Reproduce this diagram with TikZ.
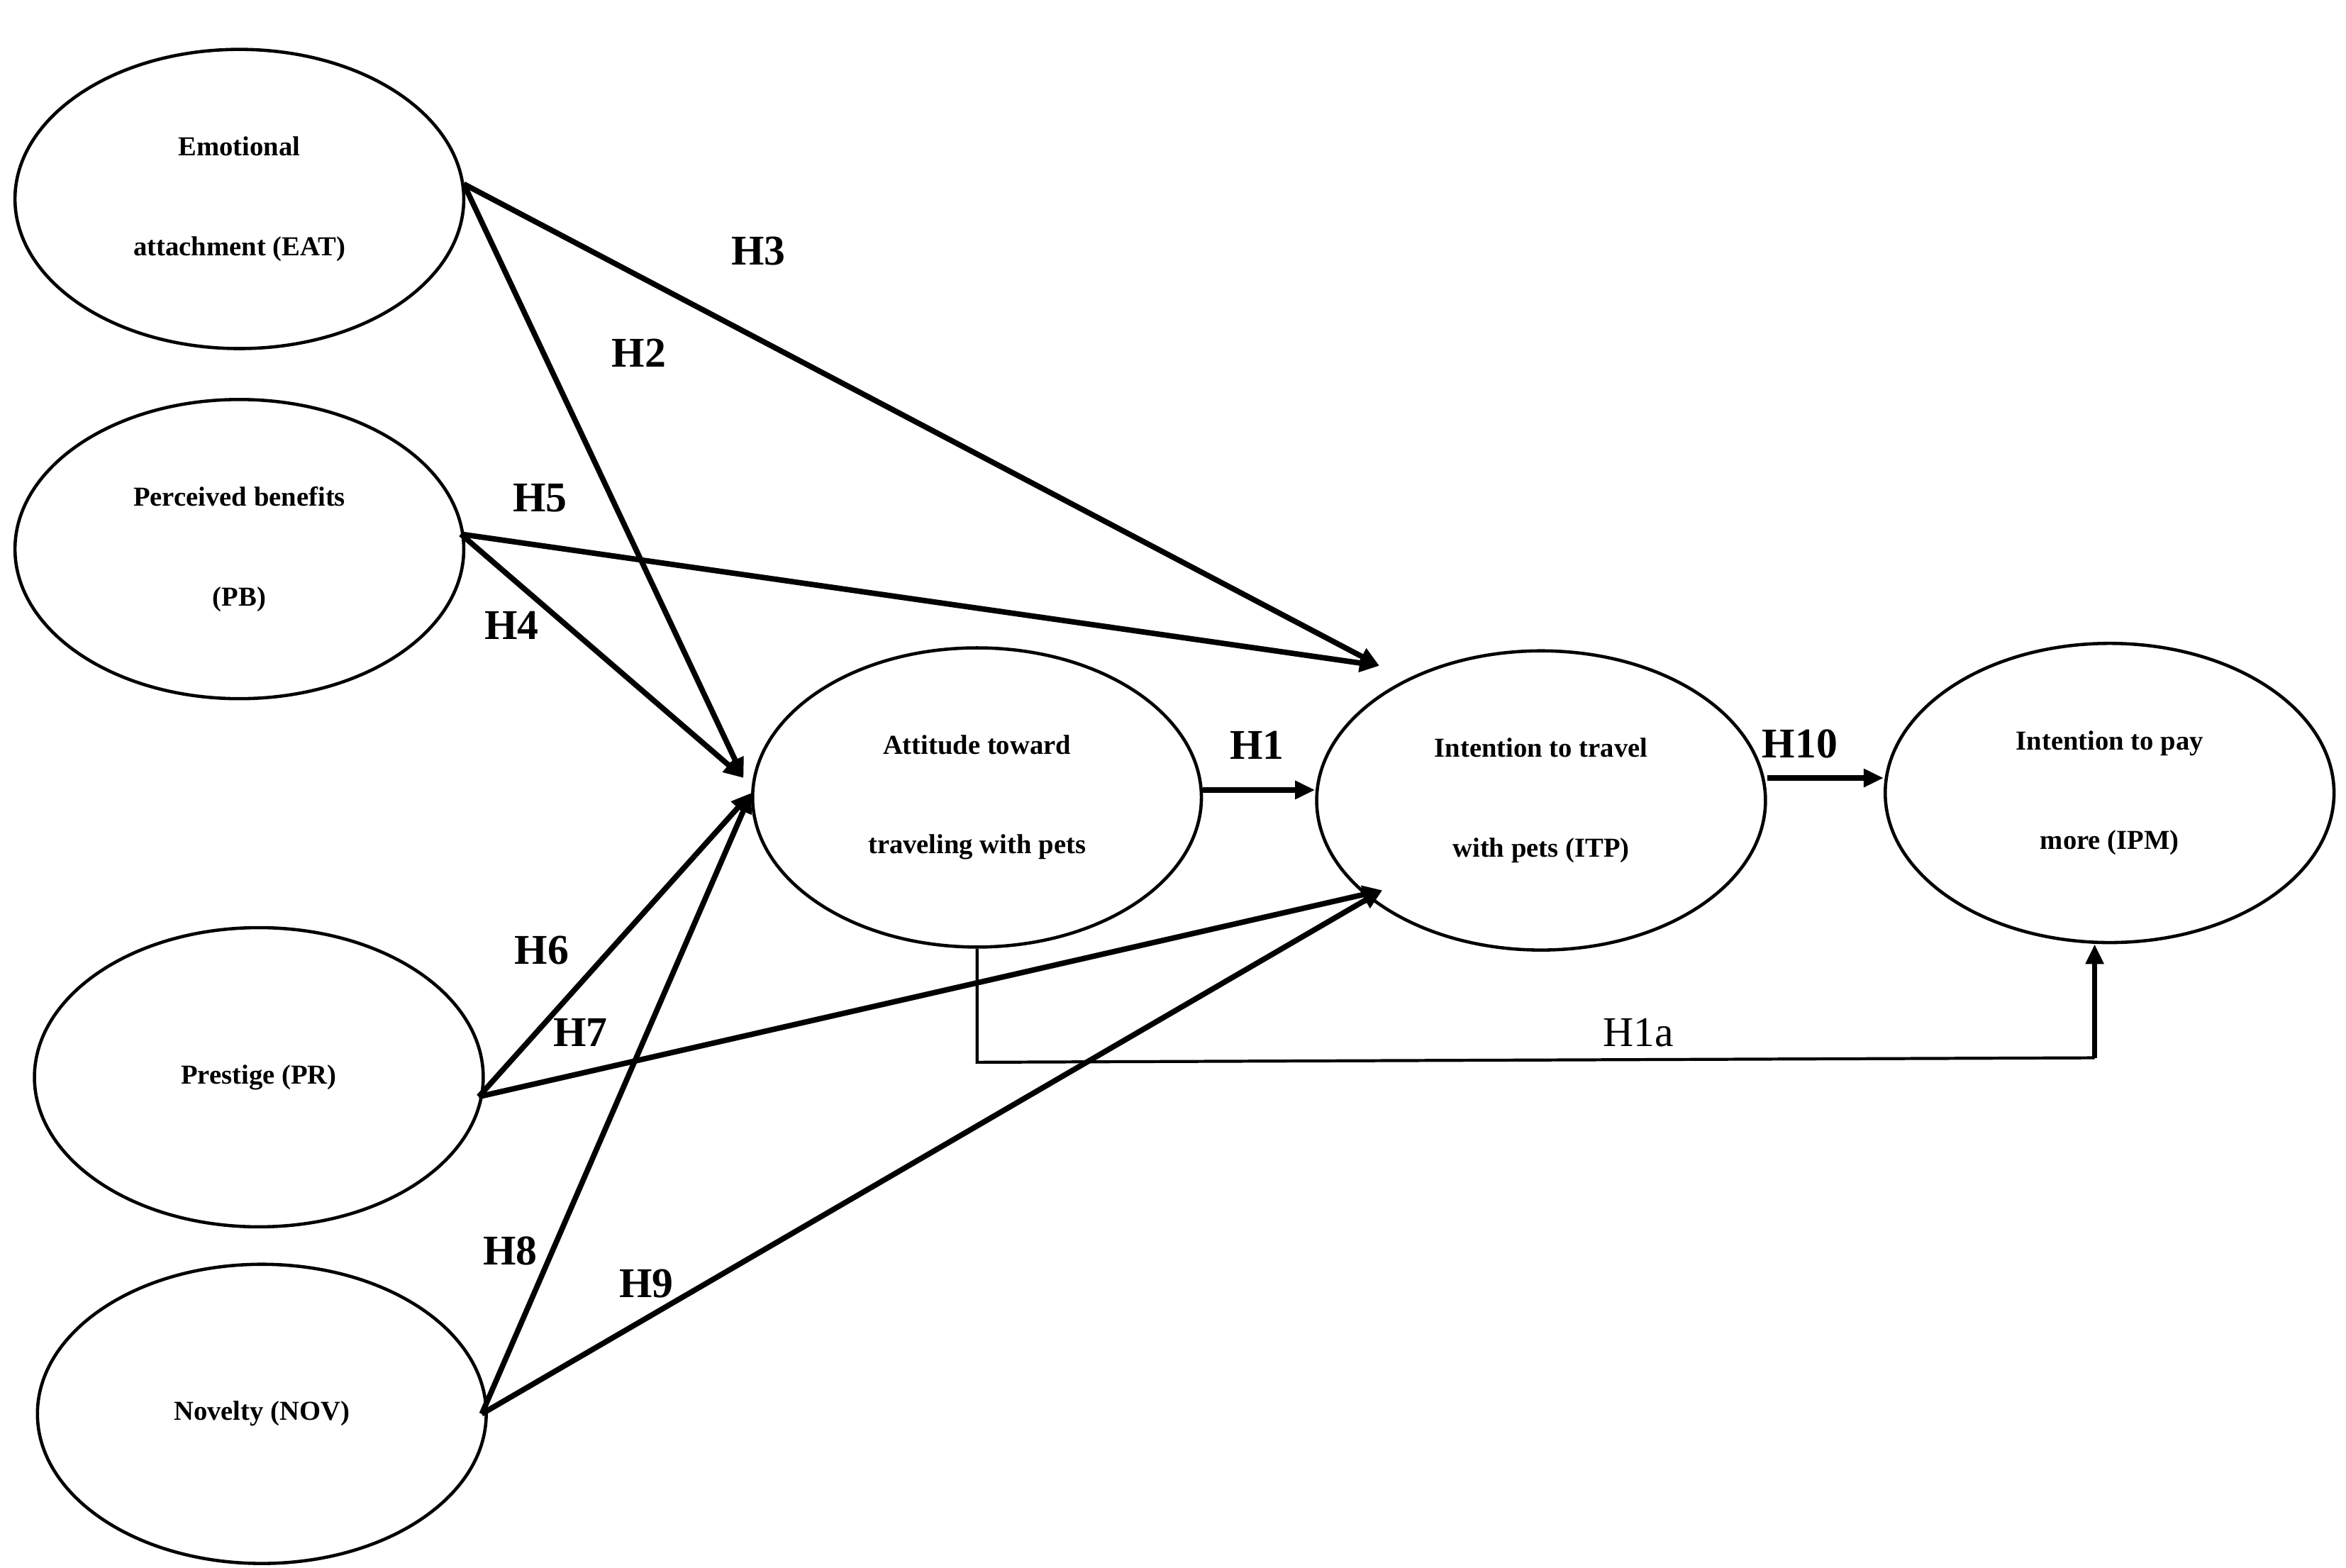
\documentclass[tikz,border=0pt]{standalone}
\usepackage{fontspec}
\setmainfont{Liberation Serif}
\usetikzlibrary{shapes.geometric,arrows.meta}
\tikzset{
  construct/.style={ellipse, draw, line width=1.3pt, minimum width=6.33cm, minimum height=4.22cm,
    align=center, font=\bfseries\fontsize{11}{40}\selectfont},
  path/.style={-{Triangle[length=8pt,width=7pt]}, line width=2.2pt},
  hyp/.style={font=\bfseries\fontsize{17}{20}\selectfont}
}
\begin{document}
\begin{tikzpicture}[x=0.0211cm,y=-0.0211cm]
  \useasboundingbox[fill=white] (0,0) rectangle (1568,1048);
  % constructs
  \node[construct] (eat) at (160,133) {Emotional\\attachment (EAT)};
  \node[construct] (pb) at (160,367) {Perceived benefits\\(PB)};
  \node[construct] (pr) at (173,720) {Prestige (PR)};
  \node[construct] (nov) at (175,945) {Novelty (NOV)};
  \node[construct] (att) at (653,533) {Attitude toward\\traveling with pets};
  \node[construct] (itp) at (1030,535) {Intention to travel\\with pets (ITP)};
  \node[construct] (ipm) at (1410,530) {Intention to pay\\more (IPM)};
  % arrow ends
  \coordinate (attin) at (497,520);
  \coordinate (attlow) at (502,530);
  \coordinate (itpup) at (922,445);
  \coordinate (itplow) at (924,595);
  \coordinate (eatout) at (310,123);
  \coordinate (pbout) at (308,357);
  \coordinate (prout) at (320,733);
  \coordinate (novout) at (322,945);
  \coordinate (bend1) at (653,710);
  \coordinate (bend2) at (1400,707);
  % paths
  \draw[path] (eatout) -- (attin);
  \draw[path] (eatout) -- (itpup);
  \draw[path] (pbout) -- (itpup);
  \draw[path] (pbout) -- (attin);
  \draw[path] (prout) -- (attlow);
  \draw[path] (prout) -- (itplow);
  \draw[path] (novout) -- (attlow);
  \draw[path] (novout) -- (itplow);
  \draw[path] (att.east |- 0,528) -- (itp.west |- 0,528);
  \draw[path] (itp.east |- 0,520) -- (ipm.west |- 0,520);
  \draw[line width=1.2pt] (att.south) -- (bend1) -- (bend2);
  \draw[path] (bend2) -- (ipm.south -| bend2);
  % labels
  \node[hyp] (h3) at (507,168) {H3};
  \node[hyp] (h2) at (427,236) {H2};
  \node[hyp] (h5) at (361,333) {H5};
  \node[hyp] (h4) at (342,418) {H4};
  \node[hyp] (h6) at (362,635) {H6};
  \node[hyp] (h7) at (388,690) {H7};
  \node[hyp] (h8) at (341,836) {H8};
  \node[hyp] (h9) at (432,858) {H9};
  \node[hyp] (h1) at (840,498) {H1};
  \node[hyp] (h10) at (1203,497) {H10};
  \node[hyp,font=\fontsize{17}{20}\selectfont] (h1a) at (1095,690) {H1a};
\end{tikzpicture}
\end{document}
